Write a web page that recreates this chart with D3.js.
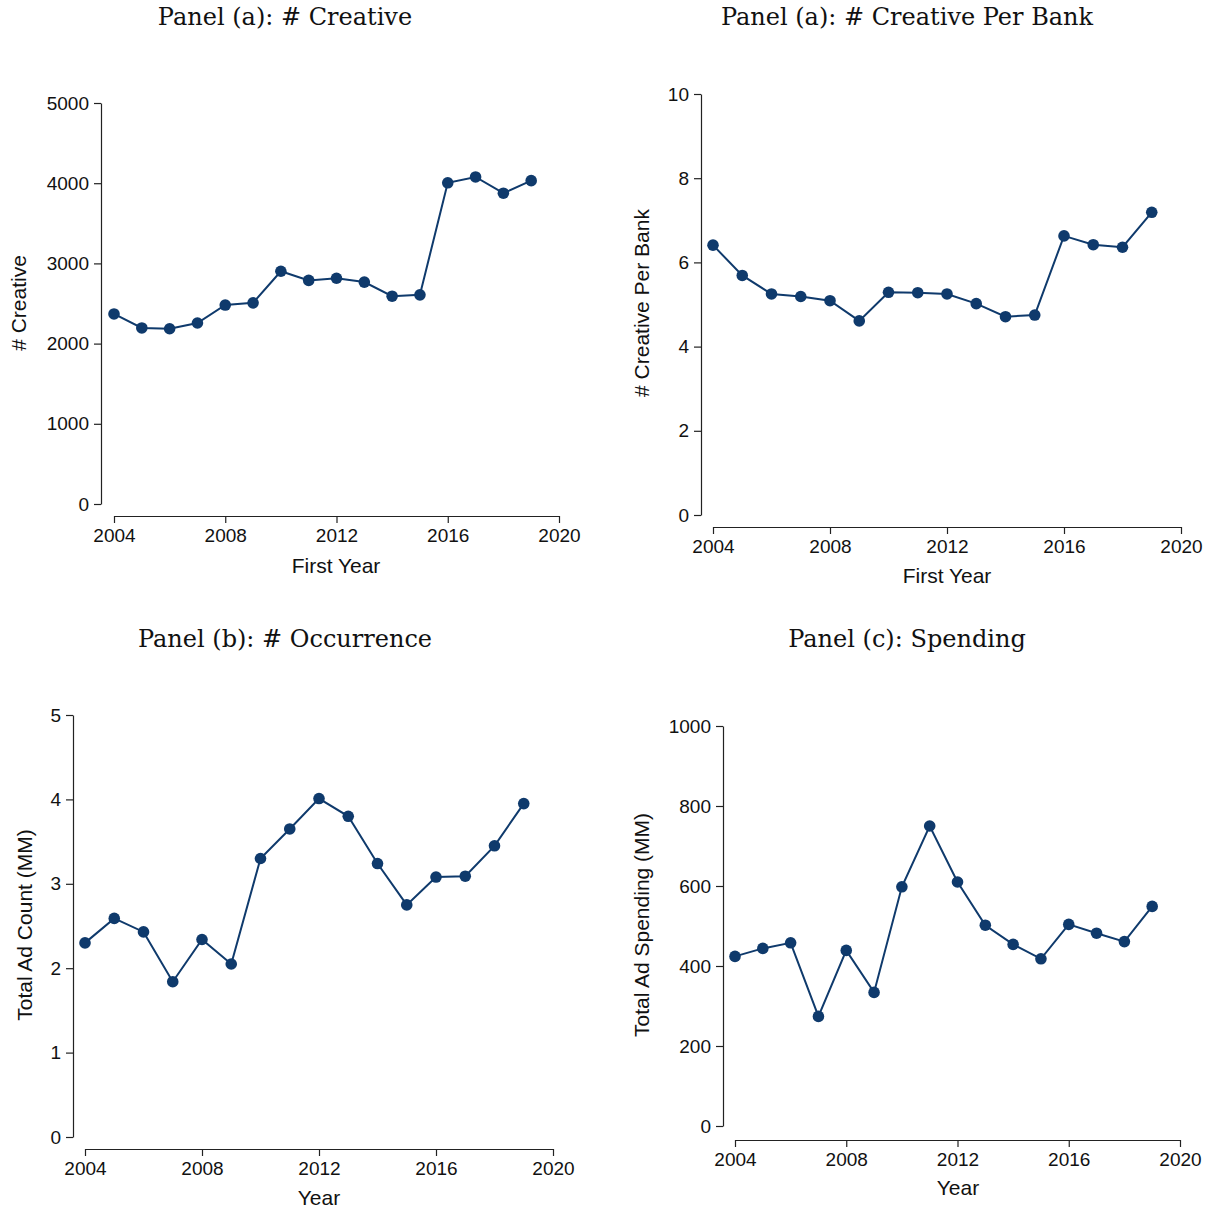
<!DOCTYPE html>
<html>
<head>
<meta charset="utf-8">
<script src="https://cdn.jsdelivr.net/npm/d3@7"></script>
<style>
  body { margin: 0; background: #fff; }
  .tick text { font-family: "Liberation Sans", Arial, sans-serif; font-size: 19px; fill: #111; }
  .title { font-family: "DejaVu Serif", "Liberation Serif", serif; font-size: 24px; fill: #111; }
  .lab { font-family: "Liberation Sans", Arial, sans-serif; font-size: 21px; fill: #111; }
</style>
</head>
<body>
<svg id="chart" width="1212" height="1209"></svg>
<script>
// data
const years = [2004, 2005, 2006, 2007, 2008, 2009, 2010, 2011, 2012, 2013, 2014, 2015, 2016, 2017, 2018, 2019];
const creative = [2370, 2195, 2185, 2257, 2481, 2508, 2902, 2788, 2815, 2767, 2591, 2608, 4005, 4078, 3875, 4032];
const creativePerBank = [6.41, 5.69, 5.25, 5.19, 5.09, 4.61, 5.29, 5.28, 5.25, 5.02, 4.71, 4.75, 6.63, 6.42, 6.36, 7.19];
const adCount = [2.30, 2.59, 2.43, 1.84, 2.34, 2.05, 3.30, 3.65, 4.01, 3.80, 3.24, 2.75, 3.08, 3.09, 3.45, 3.95];
const adSpending = [424, 444, 458, 274, 439, 334, 598, 750, 610, 502, 454, 418, 504, 482, 461, 549];

const xTicks = [2004, 2008, 2012, 2016, 2020];
const yTicks1 = [0, 1000, 2000, 3000, 4000, 5000];
const yTicks2 = [0, 2, 4, 6, 8, 10];
const yTicks3 = [0, 1, 2, 3, 4, 5];
const yTicks4 = [0, 200, 400, 600, 800, 1000];

const navy = "#0f3a6c";
const svg = d3.select("#chart");

// layout of each panel (pixel positions)
const panels = [
  {title: "Panel (a): # Creative", ylab: "# Creative", xlab: "First Year", vals: creative, ticks: yTicks1,
   x0: 114, x1: 559, xAxisY: 516, yAxisX: 101, y0: 504, y1: 103, tx: 285, ty: 17, ylx: 18, yly: 303, xlx: 336, xly: 565},
  {title: "Panel (a): # Creative Per Bank", ylab: "# Creative Per Bank", xlab: "First Year", vals: creativePerBank, ticks: yTicks2,
   x0: 713, x1: 1181, xAxisY: 527, yAxisX: 701, y0: 515, y1: 94, tx: 907, ty: 17, ylx: 641, yly: 303, xlx: 947, xly: 575},
  {title: "Panel (b): # Occurrence", ylab: "Total Ad Count (MM)", xlab: "Year", vals: adCount, ticks: yTicks3,
   x0: 85, x1: 553, xAxisY: 1149, yAxisX: 73, y0: 1137, y1: 715, tx: 285, ty: 639, ylx: 24, yly: 925, xlx: 319, xly: 1197},
  {title: "Panel (c): Spending", ylab: "Total Ad Spending (MM)", xlab: "Year", vals: adSpending, ticks: yTicks4,
   x0: 735, x1: 1180, xAxisY: 1140, yAxisX: 723, y0: 1126, y1: 726, tx: 907, ty: 639, ylx: 641, yly: 925, xlx: 958, xly: 1187}
];

panels.forEach(function(p) {
  const x = d3.scaleLinear().domain([2004, 2020]).range([p.x0, p.x1]);
  const y = d3.scaleLinear().domain([p.ticks[0], p.ticks[p.ticks.length - 1]]).range([p.y0, p.y1]);

  // x axis
  const gx = svg.append("g")
    .attr("transform", "translate(0," + p.xAxisY + ")")
    .call(d3.axisBottom(x).tickValues(xTicks).tickFormat(d3.format("d")).tickSize(7).tickSizeOuter(0).tickPadding(6));
  // y axis
  const gy = svg.append("g")
    .attr("transform", "translate(" + p.yAxisX + ",0)")
    .call(d3.axisLeft(y).tickValues(p.ticks).tickFormat(d3.format("d")).tickSize(7).tickSizeOuter(0).tickPadding(5));
  [gx, gy].forEach(function(g) {
    g.select(".domain").attr("stroke", "#222").attr("stroke-width", 1.2);
    g.selectAll(".tick line").attr("stroke", "#222").attr("stroke-width", 1.2);
  });

  const pts = years.map(function(d, i) { return [d, p.vals[i]]; });
  svg.append("path")
    .datum(pts)
    .attr("fill", "none")
    .attr("stroke", navy)
    .attr("stroke-width", 2)
    .attr("d", d3.line().x(function(d) { return x(d[0]); }).y(function(d) { return y(d[1]); }));
  svg.append("g").selectAll("circle")
    .data(pts)
    .enter().append("circle")
    .attr("cx", function(d) { return x(d[0]); })
    .attr("cy", function(d) { return y(d[1]); })
    .attr("r", 5.8)
    .attr("fill", navy);

  svg.append("text").attr("class", "title")
    .attr("x", p.tx).attr("y", p.ty)
    .attr("text-anchor", "middle").attr("dominant-baseline", "central")
    .text(p.title);
  svg.append("text").attr("class", "lab")
    .attr("transform", "translate(" + p.ylx + "," + p.yly + ") rotate(-90)")
    .attr("text-anchor", "middle").attr("dominant-baseline", "central")
    .text(p.ylab);
  svg.append("text").attr("class", "lab")
    .attr("x", p.xlx).attr("y", p.xly)
    .attr("text-anchor", "middle").attr("dominant-baseline", "central")
    .text(p.xlab);
});
</script>
</body>
</html>
